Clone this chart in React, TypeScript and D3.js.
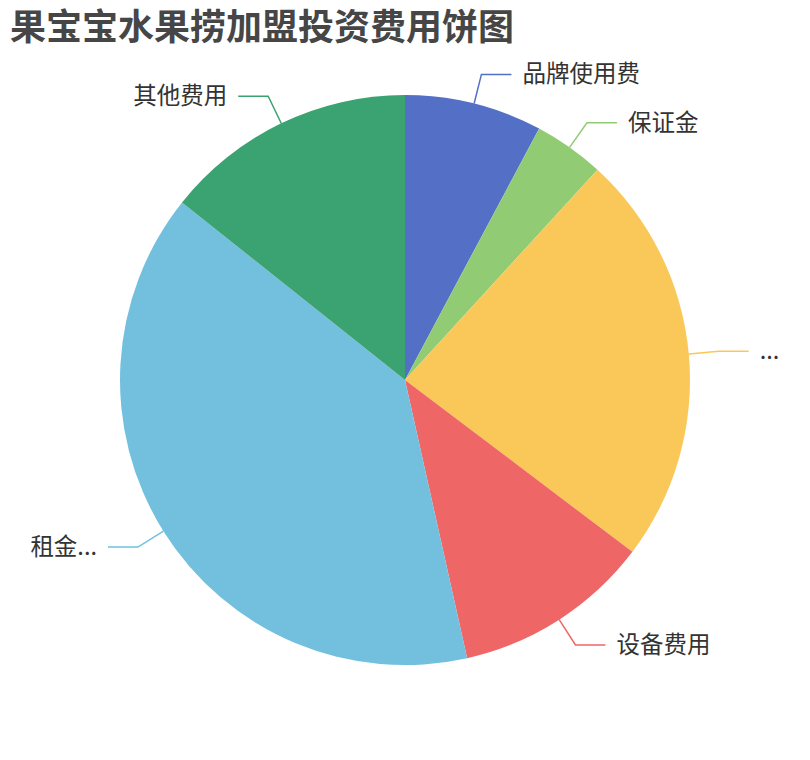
import React from "react";
import * as d3 from "d3";

const title = "果宝宝水果捞加盟投资费用饼图";
const categories = ["品牌使用费", "保证金", "装修费用", "设备费用", "租金", "其他费用"];
const displayLabels = ["品牌使用费", "保证金", "...", "设备费用", "租金...", "其他费用"];
const values = [7.8, 4.0, 23.5, 11.2, 39.2, 14.3];
const colors = ["#5470c6", "#91cc75", "#fac858", "#ee6666", "#73c0de", "#3ba272"];

const W = 810;
const H = 760;
const cx = 405;
const cy = 380;
const R = 285;
const len1 = 30;
const len2 = 30;
const gap = 11;
const FONT = "'Noto Sans CJK SC', 'Noto Sans', sans-serif";

export default function App() {
  const data = categories.map((c, i) => ({ name: c, label: displayLabels[i], value: values[i], color: colors[i] }));
  const pie = d3.pie<any>().value((d: any) => d.value).sort(null).startAngle(0).endAngle(Math.PI * 2);
  const arcs = pie(data);
  const arcGen = d3.arc<any>().innerRadius(0).outerRadius(R);

  return (
    <svg width={W} height={H} style={{ position: "absolute", left: 0, top: 0, background: "#fff" }} fontFamily={FONT}>
      <text x={10} y={40} fontSize={36} fontWeight="bold" fill="#464646">{title}</text>
      <g transform={`translate(${cx},${cy})`}>
        {arcs.map((a, i) => (
          <path key={i} d={arcGen(a) as string} fill={a.data.color} />
        ))}
        {arcs.map((a, i) => {
          const mid = (a.startAngle + a.endAngle) / 2;
          const sx = Math.sin(mid), sy = -Math.cos(mid);
          const p0 = [sx * R, sy * R];
          const p1 = [sx * (R + len1), sy * (R + len1)];
          const right = sx >= 0;
          const p2 = [p1[0] + (right ? len2 : -len2), p1[1]];
          const tx = p2[0] + (right ? gap : -gap);
          return (
            <g key={"l" + i}>
              <polyline points={`${p0[0]},${p0[1]} ${p1[0]},${p1[1]} ${p2[0]},${p2[1]}`} fill="none" stroke={a.data.color} strokeWidth={1.5} />
              <text x={tx} y={p1[1] - 2} fontSize={23.5} fill="#333" dominantBaseline="central" textAnchor={right ? "start" : "end"}>
                {a.data.label}
              </text>
            </g>
          );
        })}
      </g>
    </svg>
  );
}
